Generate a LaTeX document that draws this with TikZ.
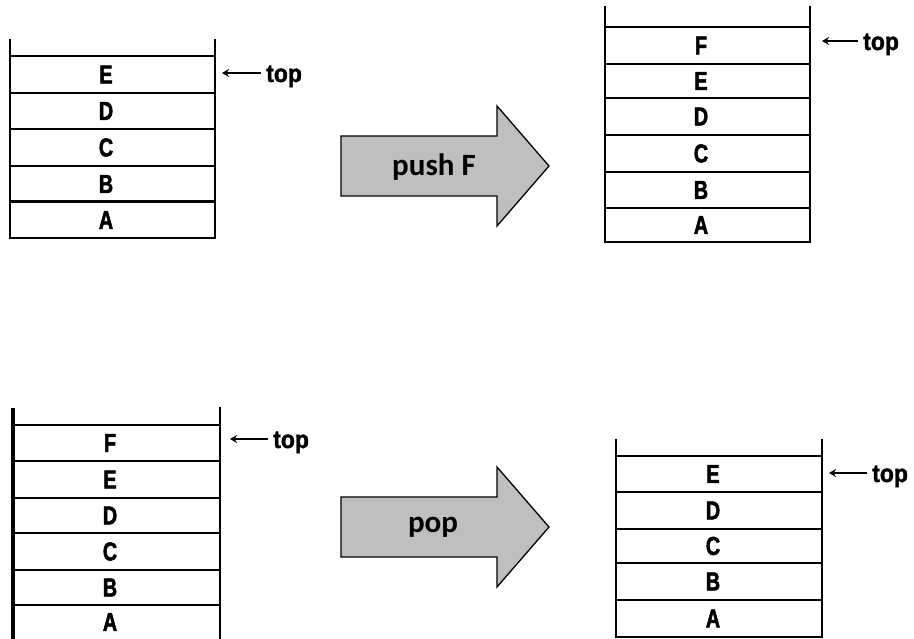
\documentclass[tikz,border=0pt]{standalone}
\usepackage{fontspec}
\setmainfont{Liberation Sans}
\newfontfamily\cellfont[FakeStretch=0.76,FakeBold=2]{Liberation Sans Bold}
\newfontfamily\pointerfont[FakeStretch=0.92,FakeBold=1.5]{Liberation Sans Bold}
\newfontfamily\opfont{Carlito}
\usetikzlibrary{arrows.meta}

\tikzset{
  wall/.style={line width=2pt, line cap=rect},
  cell/.style={inner sep=0pt, font=\cellfont\fontsize{26}{26}\selectfont},
  toplabel/.style={inner sep=0pt, anchor=base west, font=\pointerfont\fontsize{25}{25}\selectfont},
  pointer/.style={line width=2.2pt, -{Stealth[length=7pt,width=8pt]}},
  oparrow/.style={draw=black, line width=1.3pt, fill=black!25, line join=miter},
  oplabel/.style={inner sep=0pt, font=\opfont\bfseries\fontsize{31}{31}\selectfont}
}

\begin{document}
\begin{tikzpicture}[x=1pt,y=-1pt]
\useasboundingbox (0,0) rectangle (914,639);

% ---- stack before push ----
\draw[wall] (10,40) -- (10,238) -- (215,238) -- (215,40);
\foreach \yy in {56,93,129,166} \draw[wall] (10,\yy) -- (215,\yy);
\draw[line width=3pt] (10,202) -- (215,202);
\node[cell] (a1) at (106,220)   {A};
\node[cell] (b1) at (106,184)   {B};
\node[cell] (c1) at (106,147.5) {C};
\node[cell] (d1) at (106,111)   {D};
\node[cell] (e1) at (106,74.5)  {E};
\node[toplabel] (t1) at (266,82) {top};
\coordinate (p1) at (222,73);
\draw[pointer] ([shift={(-5,-9)}]t1.base west) -- (p1);

% ---- push operation ----
\draw[oparrow] (341,136) -- (497,136) -- (497,106) -- (549,166)
  -- (497,226) -- (497,196) -- (341,196) -- cycle;
\node[oplabel] (push) at (434,167) {push F};

% ---- stack after push ----
\draw[wall] (605,7) -- (605,242) -- (810,242) -- (810,7);
\foreach \yy in {27,64,98,135,172,208} \draw[wall] (605,\yy) -- (810,\yy);
\node[cell] (a2) at (701,225)   {A};
\node[cell] (b2) at (701,190)   {B};
\node[cell] (c2) at (701,153.5) {C};
\node[cell] (d2) at (701,116.5) {D};
\node[cell] (e2) at (701,81)    {E};
\node[cell] (f2) at (701,45.5)  {F};
\node[toplabel] (t2) at (863,50) {top};
\coordinate (p2) at (822,41);
\draw[pointer] ([shift={(-5,-9)}]t2.base west) -- (p2);

% ---- stack before pop ----
\draw[line width=4pt] (13,408) -- (13,645);
\draw[wall] (220,408) -- (220,645);
\foreach \yy in {425,461,498,533,570,605} \draw[wall] (13,\yy) -- (220,\yy);
\node[cell] (a3) at (110,622)   {A};
\node[cell] (b3) at (110,587.5) {B};
\node[cell] (c3) at (110,551.5) {C};
\node[cell] (d3) at (110,515.5) {D};
\node[cell] (e3) at (110,479.5) {E};
\node[cell] (f3) at (110,443)   {F};
\node[toplabel] (t3) at (273,448) {top};
\coordinate (p3) at (230,439);
\draw[pointer] ([shift={(-5,-9)}]t3.base west) -- (p3);

% ---- pop operation ----
\draw[oparrow] (341,497) -- (497,497) -- (497,467) -- (549,527)
  -- (497,587) -- (497,557) -- (341,557) -- cycle;
\node[oplabel] (pop) at (433,527) {pop};

% ---- stack after pop ----
\draw[wall] (616,440) -- (616,637) -- (822,637) -- (822,440);
\foreach \yy in {456,492,529,563,600} \draw[wall] (616,\yy) -- (822,\yy);
\node[cell] (a4) at (713,618.5) {A};
\node[cell] (b4) at (713,581.5) {B};
\node[cell] (c4) at (713,546)   {C};
\node[cell] (d4) at (713,510.5) {D};
\node[cell] (e4) at (713,474)   {E};
\node[toplabel] (t4) at (872,482) {top};
\coordinate (p4) at (829,473);
\draw[pointer] ([shift={(-5,-9)}]t4.base west) -- (p4);
\end{tikzpicture}
\end{document}
